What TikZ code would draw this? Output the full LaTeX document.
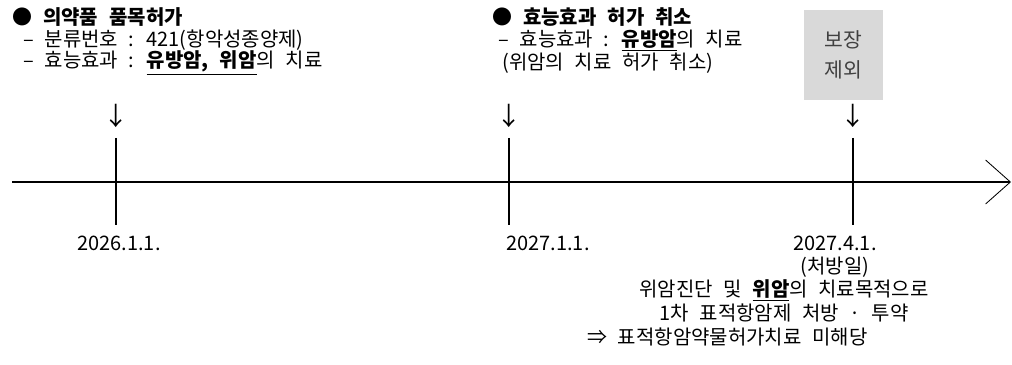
\documentclass[tikz,border=0pt]{standalone}
\usepackage{fontspec}
\setmainfont[WordSpace=2.4]{Noto Sans CJK KR}
\usetikzlibrary{arrows.meta,positioning}

\begin{document}
\begin{tikzpicture}[
  x=0.025cm, y=-0.025cm,
  txt/.style={inner sep=0pt, anchor=west, font=\fontsize{14.2}{16}\selectfont},
  ctxt/.style={inner sep=0pt, font=\fontsize{14.2}{16}\selectfont},
  dn/.style={inner sep=0pt, font=\fontsize{18}{18}\selectfont},
  tick/.style={draw, line width=1.1pt},
  axis/.style={draw, line width=1.3pt, -{Straight Barb[length=0.62cm, width=1.1cm, line width=0.6pt]}},
  gbox/.style={fill=black!15, minimum width=79*0.025cm, minimum height=90*0.025cm,
               align=center, text=black!75, font=\fontsize{14.5}{21}\selectfont}
]
\useasboundingbox (0,0) rectangle (1012,365);
% timeline
\coordinate (ax0) at (12,182);
\coordinate (ax1) at (1011,182);
\draw[axis] (ax0) -- (ax1);
\coordinate (t1a) at (116,138); \coordinate (t1b) at (116,225);
\coordinate (t2a) at (509,138); \coordinate (t2b) at (509,225);
\coordinate (t3a) at (853,138); \coordinate (t3b) at (853,225);
\draw[tick] (t1a) -- (t1b);
\draw[tick] (t2a) -- (t2b);
\draw[tick] (t3a) -- (t3b);
% arrows above ticks
\node[dn] (d1) at (116,116) {↓};
\node[dn] (d2) at (509,116) {↓};
\node[dn] (d3) at (853,116) {↓};
% first event
\node[txt] (h1) at (12,17) {\textbf{● 의약품 품목허가}};
\node[txt] (h1a) at (23,40) {– 분류번호 : 421(항악성종양제)};
\node[txt] (h1b) at (23,63) {– 효능효과 : \underline{\textbf{유방암, 위암}}의 치료};
% second event
\node[txt] (h2) at (492,17) {\textbf{● 효능효과 허가 취소}};
\node[txt] (h2a) at (498,40) {– 효능효과 : \underline{\textbf{유방암}}의 치료};
\node[txt] (h2b) at (502,63) {(위암의 치료 허가 취소)};
% third event
\node[gbox] (bx) at (843.5,55) {보장\\제외};
% dates
\node[ctxt] (dt1) at (119,243) {2026.1.1.};
\node[ctxt] (dt2) at (548,243) {2027.1.1.};
\node[ctxt] (dt3) at (835,243) {2027.4.1.};
\node[ctxt] (dt3a) at (835,267) {(처방일)};
\node[ctxt] (n1) at (784,290) {위암진단 및 \underline{\textbf{위암}}의 치료목적으로};
\node[ctxt] (n2) at (784,313) {1차 표적항암제 처방 · 투약};
\node[txt] (n3) at (587,337) {⇒ 표적항암약물허가치료 미해당};
\end{tikzpicture}
\end{document}
